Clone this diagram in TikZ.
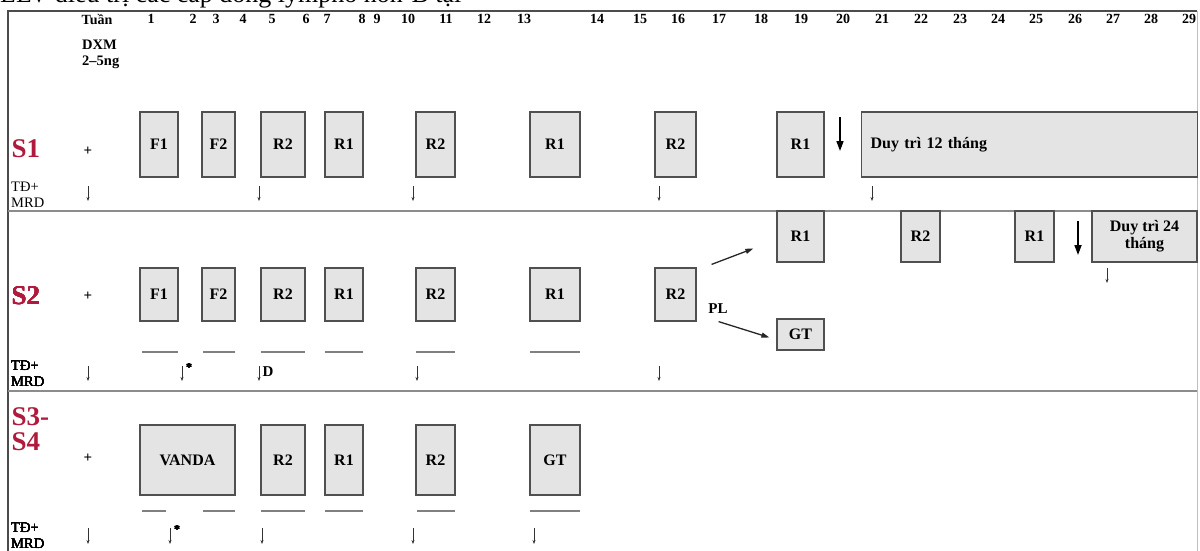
\documentclass[tikz,border=0pt]{standalone}
\usepackage{fontspec}
\setmainfont{Liberation Serif}
\usetikzlibrary{arrows.meta,calc}
\definecolor{boxfill}{HTML}{E4E4E4}
\definecolor{boxdraw}{HTML}{505050}
\definecolor{sred}{HTML}{B01A3C}
\definecolor{sepgray}{HTML}{8C8C8C}
\newcommand\bx[7][]{\node[blk, minimum width=#5pt-#3pt, minimum height=#6pt-#4pt, #1] (#2) at ({(#3+#5)/2},{(#4+#6)/2}) {#7};}
\newcommand\tk[3]{\draw[tick] (#1,#2) -- (#1,#3);}
\newcommand\ul[3]{\draw[uline] (#1,#3) -- (#2,#3);}
\begin{document}
\begin{tikzpicture}[x=1pt,y=-1pt,
  blk/.style={draw=boxdraw, fill=boxfill, line width=1.2pt, font=\bfseries\fontsize{16}{17}\selectfont, inner sep=0pt, align=center},
  hdr/.style={font=\bfseries\fontsize{14}{16}\selectfont},
  slab/.style={text=sred, font=\bfseries\fontsize{27}{25}\selectfont, align=left, anchor=west},
  tdlab/.style={font=\fontsize{14.5}{16}\selectfont, align=left, anchor=west, inner sep=0pt},
  tick/.style={-{Stealth[length=4pt,width=3pt]}, line width=0.8pt, draw=black!80},
  bigarr/.style={-{Triangle[length=10pt,width=7pt]}, line width=1.6pt},
  thinarr/.style={-{Triangle[length=8pt,width=5pt]}, line width=1.3pt, draw=black!85},
  uline/.style={line width=1.2pt, draw=black!50},
  sep/.style={line width=2pt, draw=sepgray},
  frame/.style={line width=1.6pt, draw=black!70},
]
\useasboundingbox (0,0) rectangle (1200,551);
% cropped caption (only its lower edge is inside the picture)
\node[anchor=base west, inner sep=0pt, font=\fontsize{26}{26}\selectfont] (cap) at (0,3) {LLV điều trị các cấp dòng lympho non-B tại};
% frame
\draw[frame] (8,551) -- (8,11) -- (1197,11);
\draw[line width=0.8pt, draw=black!25] (1197,11) -- (1197,551);
\draw[sep] (8,211) -- (1197,211);
\draw[sep] (8,391) -- (1197,391);
% header
\foreach \n/\x in {1/151,2/193,3/216,4/243,5/272,6/306,7/327,8/362,9/377,10/408,11/446,12/484,13/524,14/597,15/640,16/678,17/719,18/761,19/801,20/843,21/882,22/921,23/960,24/998,25/1036,26/1075,27/1113,28/1151,29/1189}
  \node[hdr] (w\n) at (\x,19) {\n};
\node[hdr] (tuan) at (97,19) {Tuần};
\node[hdr, align=left, anchor=west, inner sep=0pt, font=\bfseries\fontsize{14.5}{16}\selectfont] (dxm) at (82,54) {DXM\\2–5ng};
% ---------- S1 ----------
\node[slab] (s1) at (8,149) {S1};
\node[hdr, font=\bfseries\fontsize{15}{15}\selectfont] (p1) at (88,151) {+};
\bx{a1}{140}{112}{178}{177}{F1}
\bx{a2}{202}{112}{235}{177}{F2}
\bx{a3}{261}{112}{305}{177}{R2}
\bx{a4}{325}{112}{363}{177}{R1}
\bx{a5}{416}{112}{455}{177}{R2}
\bx{a6}{530}{112}{580}{177}{R1}
\bx{a7}{655}{112}{696}{177}{R2}
\bx{a8}{777}{112}{824}{177}{R1}
\node[blk, minimum height=65pt, text width=318pt, inner xsep=9pt, align=left, anchor=west] (a9) at (861,144.5) {Duy trì 12 tháng};
\draw[bigarr] (840,117) -- (840,151);
\node[tdlab] (td1) at (11,195) {TĐ+\\MRD};
\foreach \x in {88,259,413,659,872} \tk{\x}{186}{201}
% ---------- S2 ----------
\node[slab] (s2) at (8,296) {S2};
\node[hdr, font=\bfseries\fontsize{15}{15}\selectfont] (p2) at (88,296) {+};
\bx{b1}{140}{268}{178}{321}{F1}
\bx{b2}{202}{268}{235}{321}{F2}
\bx{b3}{261}{268}{305}{321}{R2}
\bx{b4}{325}{268}{363}{321}{R1}
\bx{b5}{416}{268}{455}{321}{R2}
\bx{b6}{530}{268}{580}{321}{R1}
\bx{b7}{655}{268}{696}{321}{R2}
\bx{c1}{777}{211}{824}{262}{R1}
\bx{c2}{901}{211}{940}{262}{R2}
\bx{c3}{1015}{211}{1054}{262}{R1}
\bx{c4}{1092}{211}{1197}{262}{Duy trì 24\\tháng}
\bx{gt2}{777}{319}{824}{350}{GT}
\node[hdr, font=\bfseries\fontsize{15}{15}\selectfont] (pl) at (718,309) {PL};
\draw[thinarr] ($(b7.north east)+(15,-3)$) -- ($(c1.west)+(-23,12)$);
\draw[thinarr] ($(b7.south east)+(22,0)$) -- ($(gt2.west)+(-7,3)$);
\draw[bigarr] (1078,221) -- (1078,255);
\tk{1107}{268}{283}
\foreach \a/\b in {142/178,203/235,261/305,325/363,416/455,530/580} \ul{\a}{\b}{352}
\node[tdlab] (td2) at (11,374) {TĐ+\\MRD};
\foreach \x in {88,182,259,417,659} \tk{\x}{366}{381}
\node[font=\bfseries\fontsize{12}{12}\selectfont, inner sep=0pt] (st2) at (189,368) {*};
\node[font=\bfseries\fontsize{15}{15}\selectfont, inner sep=0pt] (d2) at (268,372) {D};
% ---------- S3-S4 ----------
\node[slab] (s3) at (8,429) {S3-\\S4};
\node[hdr, font=\bfseries\fontsize{15}{15}\selectfont] (p3) at (88,458) {+};
\bx{e1}{140}{425}{235}{495}{VANDA}
\bx{e2}{261}{425}{305}{495}{R2}
\bx{e3}{325}{425}{363}{495}{R1}
\bx{e4}{416}{425}{455}{495}{R2}
\bx{e5}{530}{425}{580}{495}{GT}
\foreach \a/\b in {142/166,203/235,261/305,325/363,417/455,530/580} \ul{\a}{\b}{511}
\node[tdlab] (td3) at (11,536) {TĐ+\\MRD};
\foreach \x in {88,170,262,413,534} \tk{\x}{528}{544}
\node[font=\bfseries\fontsize{12}{12}\selectfont, inner sep=0pt] (st3) at (177,530) {*};
\end{tikzpicture}
\end{document}
